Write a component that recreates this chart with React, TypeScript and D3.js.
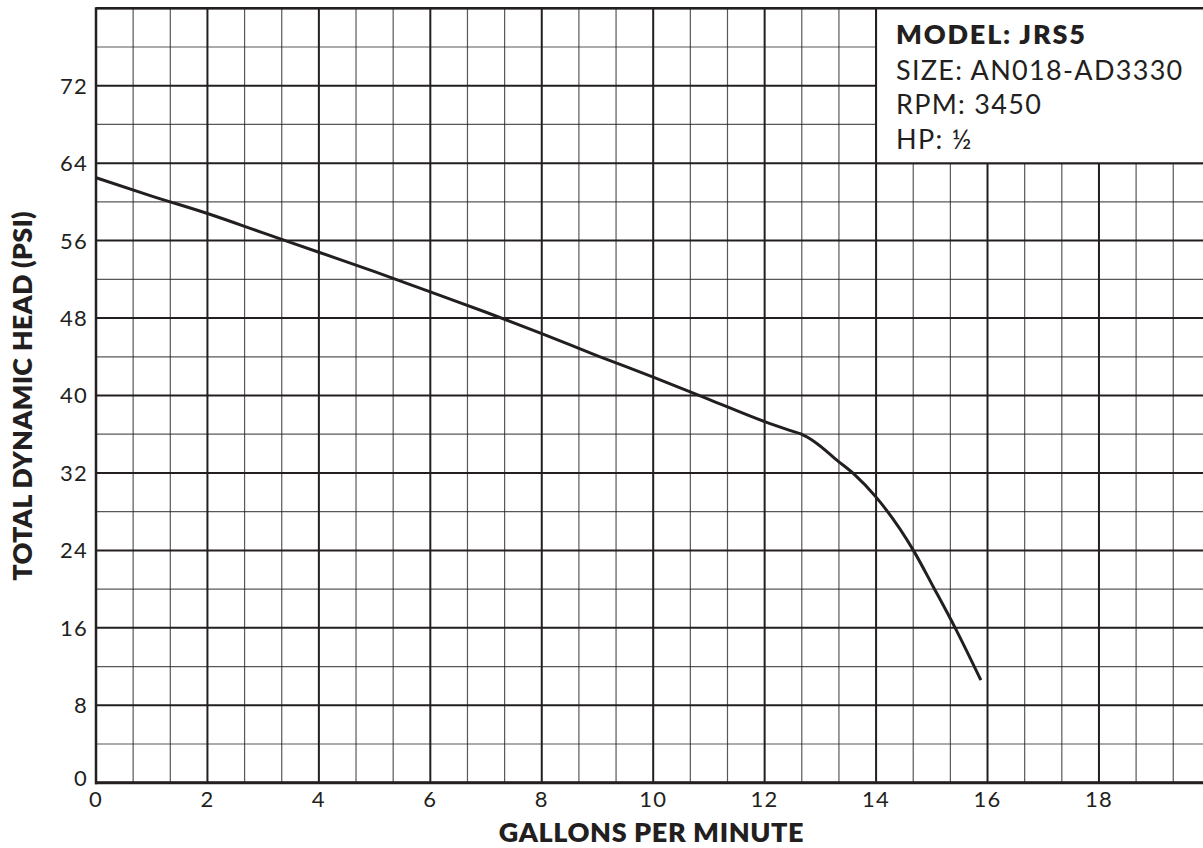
import React from 'react';
import * as d3 from 'd3';

// pump curve
const gpm = [0, 1, 2, 3, 4, 5, 6, 7, 8, 9, 10, 11, 12, 12.45, 12.66, 12.9, 13.3, 13.6, 14, 14.67, 15.03, 15.41, 15.88];
const psi = [62.5, 60.6, 58.8, 56.8, 54.8, 52.8, 50.7, 48.6, 46.4, 44.1, 41.9, 39.6, 37.3, 36.4, 36.0, 35.2, 33.3, 31.9, 29.5, 24.0, 20.2, 16.1, 10.6];

const xTicks = [0, 2, 4, 6, 8, 10, 12, 14, 16, 18];
const yTicks = [0, 8, 16, 24, 32, 40, 48, 56, 64, 72];

const legendLines = ['SIZE: AN018-AD3330', 'RPM: 3450', 'HP: ½'];

const W = 1203;
const H = 848;
const INK = '#231f20';
const FONT = 'Lato, "Open Sans", sans-serif';

export default function App() {
  const x = d3.scaleLinear().domain([0, 20]).range([96, 1210.4]);
  const y = d3.scaleLinear().domain([0, 80]).range([782.7, 8.3]);

  const vLines = d3.range(0, 31).map(i => ({ v: (i * 2) / 3, major: i % 3 === 0 }));
  const hLines = d3.range(0, 21).map(i => ({ v: i * 4, major: i % 2 === 0 }));

  const line = d3.line<number>()
    .x((_, i) => x(gpm[i]))
    .y(d => y(d))
    .curve(d3.curveMonotoneX);

  const boxLeft = x(14);
  const boxBottom = y(64);

  return (
    <div>
      <style>{`body{margin:0}`}</style>
      <svg width={W} height={H} style={{ display: 'block', fontFamily: FONT }}>
        <rect width={W} height={H} fill="#fff" />

        {/* grid */}
        <g>
          {hLines.map(d => (
            <line key={'h' + d.v} x1={x(0)} x2={x(20)} y1={y(d.v)} y2={y(d.v)}
              stroke={INK} strokeWidth={d.major ? 2 : 1.2} strokeOpacity={d.major ? 1 : 0.75} />
          ))}
          {vLines.map(d => (
            <line key={'v' + d.v} x1={x(d.v)} x2={x(d.v)} y1={y(0)} y2={y(80)}
              stroke={INK} strokeWidth={d.major ? 2 : 1.2} strokeOpacity={d.major ? 1 : 0.75} />
          ))}
        </g>

        {/* info box */}
        <rect x={boxLeft} y={y(80)} width={W - boxLeft} height={boxBottom - y(80)} fill="#fff" />
        <line x1={boxLeft} x2={boxLeft} y1={y(80)} y2={boxBottom} stroke={INK} strokeWidth={2} />
        <line x1={boxLeft} x2={W} y1={boxBottom} y2={boxBottom} stroke={INK} strokeWidth={2} />
        <text x={896} y={44.3} fontSize={27} fontWeight={800} fill={INK} letterSpacing={1.8}>MODEL: JRS5</text>
        {legendLines.map((t, i) => (
          <text key={t} x={896} y={80 + i * 34.4} fontSize={27} fill={INK} letterSpacing={1.3}>{t}</text>
        ))}

        {/* curve */}
        <path d={line(psi) ?? ''} fill="none" stroke={INK} strokeWidth={3} strokeLinejoin="round" />

        {/* frame */}
        <line x1={x(0)} x2={x(20)} y1={y(80)} y2={y(80)} stroke={INK} strokeWidth={2.5} />
        <line x1={x(0)} x2={x(0)} y1={y(80) - 1} y2={y(0) + 1.5} stroke={INK} strokeWidth={2.5} />
        <line x1={x(0) - 1} x2={x(20)} y1={y(0)} y2={y(0)} stroke={INK} strokeWidth={3} />

        {/* ticks */}
        {yTicks.map(t => (
          <text key={'yt' + t} x={88} y={y(t)} dy={t === 0 ? '0.15em' : '0.36em'} textAnchor="end" fontSize={22} fill={INK} letterSpacing={1.3}>{t}</text>
        ))}
        {xTicks.map(t => (
          <text key={'xt' + t} x={x(t)} y={807} textAnchor="middle" fontSize={22} fill={INK} letterSpacing={1.3}>{t}</text>
        ))}

        {/* axis titles */}
        <text x={651.5} y={842} textAnchor="middle" fontSize={27} fontWeight={800} fill={INK} letterSpacing={0.6}>GALLONS PER MINUTE</text>
        <text transform={`translate(31.7,396) rotate(-90)`} textAnchor="middle" fontSize={27} fontWeight={800} fill={INK} letterSpacing={0.2}>TOTAL DYNAMIC HEAD (PSI)</text>
      </svg>
    </div>
  );
}
